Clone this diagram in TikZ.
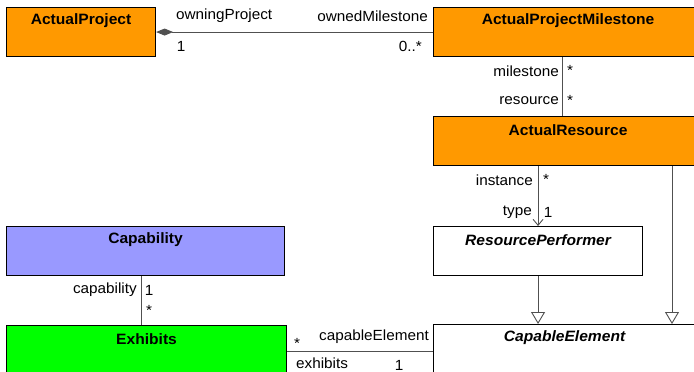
\documentclass[tikz,border=0pt]{standalone}
\usepackage{fontspec}
\setmainfont[FakeStretch=1.04]{Liberation Sans}
\usetikzlibrary{arrows.meta}
\definecolor{uorange}{HTML}{FF9900}
\definecolor{ublue}{HTML}{9999FF}
\definecolor{ugreen}{HTML}{00FF00}
\definecolor{uline}{HTML}{505050}
\tikzset{
  umlbox/.style={draw=black, line width=1.1pt, anchor=north west, inner sep=0pt},
  umltitle/.style={font=\fontsize{15}{17}\selectfont\bfseries, inner sep=0pt},
  umlital/.style={font=\fontsize{15}{17}\selectfont\bfseries\itshape, inner sep=0pt},
  lbl/.style={font=\fontsize{14.7}{16}\selectfont, inner sep=0pt},
  conn/.style={draw=uline, line width=0.9pt},
  gen/.style={conn, -{Triangle[open, length=12pt, width=14pt, fill=white]}},
}
\begin{document}
\begin{tikzpicture}[x=1pt, y=-1pt]
\useasboundingbox (0,0) rectangle (694,372);
\clip (0,0) rectangle (694,372);
% boxes
\node[umlbox, fill=uorange, minimum width=149pt, minimum height=49pt] (ap) at (6,7) {};
\node[umlbox, fill=uorange, minimum width=269pt, minimum height=49pt] (apm) at (433,7) {};
\node[umlbox, fill=uorange, minimum width=269pt, minimum height=49pt] (ar) at (433,116) {};
\node[umlbox, fill=white, minimum width=209pt, minimum height=49pt] (rp) at (433,226) {};
\node[umlbox, fill=white, minimum width=262pt, minimum height=49pt] (ce) at (433,324) {};
\node[umlbox, fill=ublue, minimum width=278pt, minimum height=49pt] (cap) at (6,226) {};
\node[umlbox, fill=ugreen, minimum width=280pt, minimum height=49pt] (ex) at (6,325) {};
% titles
\node[umltitle] (tap) at ([yshift=-14pt]ap.north) {ActualProject};
\node[umltitle] (tapm) at ([yshift=-14pt]apm.north) {ActualProjectMilestone};
\node[umltitle] (tar) at ([yshift=-14pt]ar.north) {ActualResource};
\node[umlital] (trp) at ([yshift=-14pt]rp.north) {ResourcePerformer};
\node[umlital] (tce) at ([yshift=-14pt]ce.north) {CapableElement};
\node[umltitle] (tcap) at ([yshift=-14pt]cap.north) {Capability};
\node[umltitle] (tex) at ([yshift=-14pt]ex.north) {Exhibits};
% connectors
\draw[conn, -{Diamond[fill=uline, length=17pt, width=7pt]}] (apm.west) -- (ap.east);
\draw[conn] ([xshift=129pt]apm.south west) -- ([xshift=129pt]ar.north west);
\draw[conn, -{Straight Barb[length=6pt, width=10pt]}] (ar.south -| rp.north) -- (rp.north);
\draw[gen] ([xshift=239pt]ar.south west) -- ([xshift=239pt]ce.north west);
\draw[gen] (rp.south) -- (rp.south |- ce.north);
\draw[conn] ([xshift=135pt]cap.south west) -- ([xshift=135pt]ex.north west);
\coordinate (exr) at ([yshift=-26pt]ex.north east);
\draw[conn] (exr) -- (exr -| ce.west);
% labels
\node[lbl, anchor=west] (l1) at (176,16) {owningProject};
\node[lbl, anchor=east] (l2) at (428,16) {ownedMilestone};
\node[lbl] (l3) at (181,46) {1};
\node[lbl, anchor=east] (l4) at (422,46) {0..*};
\node[lbl, anchor=east] (l5) at (559,71) {milestone};
\node[lbl] (l6) at (570,70) {*};
\node[lbl, anchor=east] (l7) at (559,101) {resource};
\node[lbl] (l8) at (570,100) {*};
\node[lbl, anchor=east] (l9) at (533,180) {instance};
\node[lbl] (l10) at (546,179) {*};
\node[lbl, anchor=east] (l11) at (532,212) {type};
\node[lbl] (l12) at (548,212) {1};
\node[lbl, anchor=east] (l13) at (137,290) {capability};
\node[lbl] (l14) at (149,290) {1};
\node[lbl] (l15) at (149,310) {*};
\node[lbl] (l16) at (297,343) {*};
\node[lbl, anchor=east] (l17) at (429,337) {capableElement};
\node[lbl, anchor=west] (l18) at (296,363) {exhibits};
\node[lbl] (l19) at (399,365) {1};
\end{tikzpicture}
\end{document}
